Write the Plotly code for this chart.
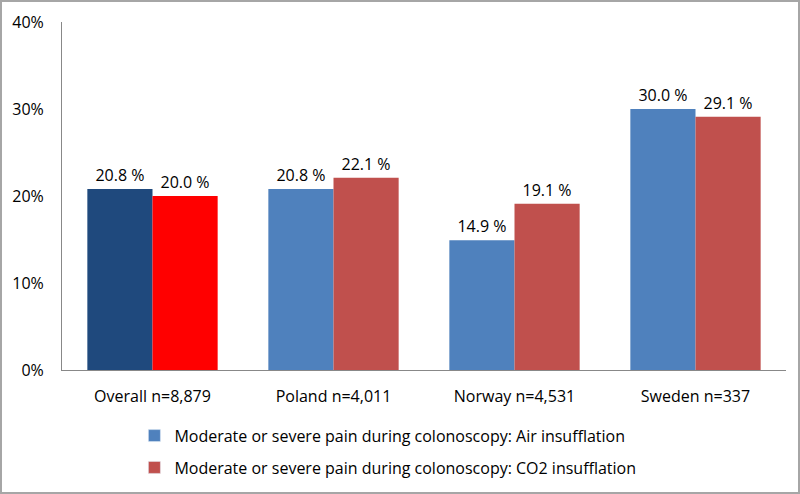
import plotly.graph_objects as go

categories = ["Overall n=8,879", "Poland n=4,011", "Norway n=4,531", "Sweden n=337"]
air_values = [20.8, 20.8, 14.9, 30.0]
co2_values = [20.0, 22.1, 19.1, 29.1]
y_ticks = [0, 10, 20, 30, 40]

AIR = "#4F81BD"
CO2 = "#C0504D"
AIR_OVERALL = "#1F497D"
CO2_OVERALL = "#FF0000"
AIR_NAME = "Moderate or severe pain during colonoscopy: Air insufflation"
CO2_NAME = "Moderate or severe pain during colonoscopy: CO2 insufflation"

FONT = "Open Sans"

fig = go.Figure()
fig.add_trace(go.Bar(
    x=categories, y=air_values, name=AIR_NAME, showlegend=False,
    marker=dict(color=[AIR_OVERALL] + [AIR] * 3, line=dict(width=0)),
    text=[f"{v:.1f} %" for v in air_values], textposition="outside",
    constraintext="none", textfont=dict(size=16, color="#000000"),
    cliponaxis=False, offsetgroup="a", legendgroup="a",
))
fig.add_trace(go.Bar(
    x=categories, y=co2_values, name=CO2_NAME, showlegend=False,
    marker=dict(color=[CO2_OVERALL] + [CO2] * 3, line=dict(width=0)),
    text=[f"{v:.1f} %" for v in co2_values], textposition="outside",
    constraintext="none", textfont=dict(size=16, color="#000000"),
    cliponaxis=False, offsetgroup="b", legendgroup="b",
))

# legend swatches use the standard series colours
fig.add_trace(go.Bar(x=[categories[0]], y=[None], marker_color=AIR, name=AIR_NAME,
                     offsetgroup="a", legendgroup="a"))
fig.add_trace(go.Bar(x=[categories[0]], y=[None], marker_color=CO2, name=CO2_NAME,
                     offsetgroup="b", legendgroup="b"))

ml, mr, mt, mb = 62, 14, 22, 124
pw, ph = 800 - ml - mr, 494 - mt - mb

fig.update_layout(
    width=800, height=494,
    margin=dict(l=ml, r=mr, t=mt, b=mb, autoexpand=False),
    paper_bgcolor="white", plot_bgcolor="white",
    font=dict(family=FONT, size=16, color="#000000"),
    barmode="group", bargap=0.28, bargroupgap=0,
    showlegend=True,
    legend=dict(x=0.1, y=-0.14, xanchor="left", yanchor="top",
                orientation="v", tracegroupgap=8,
                font=dict(size=16), itemwidth=30),
    xaxis=dict(showline=True, linecolor="#888888", linewidth=1,
               ticks="", tickfont=dict(size=16), automargin=False,
               ticklabelstandoff=12),
    yaxis=dict(range=[0, 40], tickvals=y_ticks,
               ticktext=[f"{v}%" for v in y_ticks],
               showgrid=False, zeroline=False, showline=True,
               linecolor="#888888", linewidth=1, ticks="",
               ticklabelstandoff=14, tickfont=dict(size=16), automargin=False),
    shapes=[dict(type="rect", xref="paper", yref="paper",
                 x0=-(ml - 1) / pw, x1=1 + (mr - 1) / pw,
                 y0=-(mb - 1) / ph, y1=1 + (mt - 1) / ph,
                 line=dict(color="#A6A6A6", width=2))],
)

fig.write_html("out.html", config={"displayModeBar": False},
               post_script="document.body.style.margin='0';")
